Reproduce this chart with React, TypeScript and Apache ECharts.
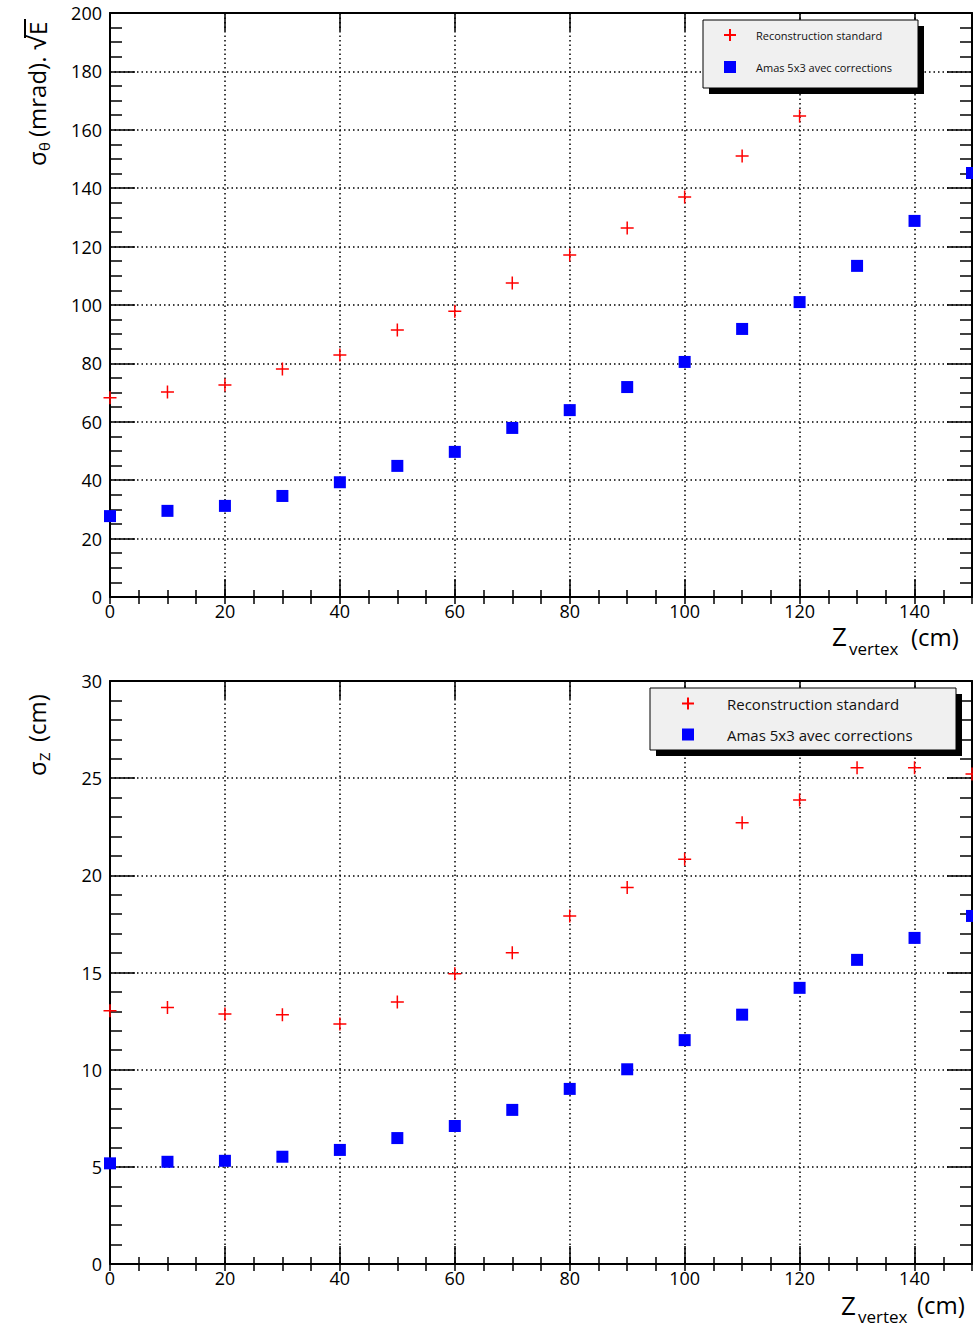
import React, { useEffect, useRef } from "react";
import * as echarts from "echarts";

const zVertex = [0, 10, 20, 30, 40, 50, 60, 70, 80, 90, 100, 110, 120, 130, 140, 150];
// Top panel: sigma_theta * sqrt(E) (mrad)
const thetaStandard = [68.2, 70.2, 72.6, 78.1, 82.9, 91.4, 97.9, 107.5, 117.1, 126.4, 137.0, 151.0, 164.7];
const thetaAmas = [27.7, 29.5, 31.2, 34.6, 39.3, 44.9, 49.7, 57.9, 64.0, 71.9, 80.5, 91.8, 101.0, 113.4, 128.8, 145.2];
// Bottom panel: sigma_z (cm)
const zStandard = [13.03, 13.2, 12.87, 12.82, 12.35, 13.48, 14.93, 16.01, 17.91, 19.38, 20.83, 22.7, 23.88, 25.53, 25.53, 25.22];
const zAmas = [5.18, 5.26, 5.31, 5.52, 5.87, 6.48, 7.1, 7.93, 9.01, 10.02, 11.52, 12.83, 14.21, 15.65, 16.78, 17.91];

const seriesNames = ["Reconstruction standard", "Amas 5x3 avec corrections"];
const xRange = { min: 0, max: 150, major: 20, minor: 5 };
const yTopRange = { min: 0, max: 200, major: 20, minorSplit: 4 };
const yBottomRange = { min: 0, max: 30, major: 5, minorSplit: 5 };

const FONT = '"Open Sans", "DejaVu Sans", sans-serif';
const CROSS = "path://M0,6L12,6M6,0L6,12";

function pairs(xs: number[], ys: number[]) {
  return ys.map((y, i) => [xs[i], y]);
}

function xAxesFor(gridIndex: number) {
  const base = { type: "value", gridIndex, min: xRange.min, max: xRange.max };
  const tickStyle = { color: "#000", width: 1.5 };
  return [
    {
      ...base,
      position: "bottom",
      interval: xRange.major,
      axisLine: { show: true, onZero: false, lineStyle: { color: "#000", width: 2 } },
      axisTick: { show: true, inside: true, length: 18, lineStyle: tickStyle },
      axisLabel: { show: true, fontSize: 18, color: "#000", fontFamily: FONT, margin: 5, showMaxLabel: false },
      splitLine: { show: true, lineStyle: { color: "#000", width: 1.5, type: [1.5, 3] } },
    },
    {
      ...base,
      position: "bottom",
      interval: xRange.minor,
      axisLine: { show: false },
      axisTick: { show: true, inside: true, length: 7, lineStyle: tickStyle },
      axisLabel: { show: false },
      splitLine: { show: false },
    },
    {
      ...base,
      position: "top",
      interval: xRange.major,
      axisLine: { show: true, onZero: false, lineStyle: { color: "#000", width: 2 } },
      axisTick: { show: true, inside: true, length: 18, lineStyle: tickStyle },
      axisLabel: { show: false },
      splitLine: { show: false },
    },
    {
      ...base,
      position: "top",
      interval: xRange.minor,
      axisLine: { show: false },
      axisTick: { show: true, inside: true, length: 7, lineStyle: tickStyle },
      axisLabel: { show: false },
      splitLine: { show: false },
    },
  ];
}

function yAxesFor(gridIndex: number, r: { min: number; max: number; major: number; minorSplit: number }) {
  const base = { type: "value", gridIndex, min: r.min, max: r.max, interval: r.major };
  const tickStyle = { color: "#000", width: 1.5 };
  return [
    {
      ...base,
      position: "left",
      axisLine: { show: true, onZero: false, lineStyle: { color: "#000", width: 2 } },
      axisTick: { show: true, inside: true, length: 25, lineStyle: tickStyle },
      minorTick: { show: true, splitNumber: r.minorSplit, length: 12, lineStyle: tickStyle },
      axisLabel: { show: true, fontSize: 18, color: "#000", fontFamily: FONT, margin: 8 },
      splitLine: { show: true, lineStyle: { color: "#000", width: 1.5, type: [1.5, 3] } },
    },
    {
      ...base,
      position: "right",
      axisLine: { show: true, onZero: false, lineStyle: { color: "#000", width: 2 } },
      axisTick: { show: true, inside: true, length: 25, lineStyle: tickStyle },
      minorTick: { show: true, splitNumber: r.minorSplit, length: 12, lineStyle: tickStyle },
      axisLabel: { show: false },
      splitLine: { show: false },
    },
  ];
}

function crossSeries(data: number[][], xAxisIndex: number, yAxisIndex: number) {
  return {
    type: "scatter",
    name: seriesNames[0],
    xAxisIndex,
    yAxisIndex,
    data,
    symbol: CROSS,
    symbolSize: 13,
    clip: false,
    z: 3,
    itemStyle: { color: "rgba(255,0,0,0)", borderColor: "#ff0000", borderWidth: 1.5, opacity: 1 },
    emphasis: { disabled: true },
  };
}

function squareSeries(data: number[][], xAxisIndex: number, yAxisIndex: number) {
  return {
    type: "scatter",
    name: seriesNames[1],
    xAxisIndex,
    yAxisIndex,
    data,
    symbol: "rect",
    symbolSize: 12,
    clip: false,
    z: 3,
    itemStyle: { color: "#0000ff", opacity: 1 },
    emphasis: { disabled: true },
  };
}

function legendBox(x: number, y: number, w: number, h: number, shadow: number) {
  return [
    { type: "rect", z: 50, shape: { x: x + shadow, y: y + shadow, width: w, height: h }, style: { fill: "#000" } },
    { type: "rect", z: 51, shape: { x, y, width: w, height: h }, style: { fill: "#f0f0f0", stroke: "#000", lineWidth: 1 } },
  ];
}

function txt(x: number, y: number, text: string, fontSize: number, extra: any = {}) {
  return {
    type: "text",
    x,
    y,
    z: 60,
    style: { text, fontSize, fontFamily: FONT, fill: "#000", verticalAlign: "middle", ...extra },
  };
}

export default function App() {
  const ref = useRef<HTMLDivElement>(null);
  useEffect(() => {
    if (!ref.current) return;
    const chart = echarts.init(ref.current, null, { renderer: "svg" });
    const option: any = {
      animation: false,
      backgroundColor: "#fff",
      grid: [
        { left: 110, top: 13, width: 862, height: 584, containLabel: false },
        { left: 110, top: 681, width: 862, height: 583, containLabel: false },
      ],
      xAxis: [...xAxesFor(0), ...xAxesFor(1)],
      yAxis: [...yAxesFor(0, yTopRange), ...yAxesFor(1, yBottomRange)],
      legend: [
        {
          orient: "vertical",
          left: 718,
          top: 23,
          itemWidth: 12,
          itemHeight: 12,
          itemGap: 19,
          selectedMode: false,
          z: 70,
          data: seriesNames,
          textStyle: { fontSize: 11, fontFamily: FONT, color: "#111", padding: [0, 0, 0, 15] },
        },
        {
          orient: "vertical",
          left: 676,
          top: 691,
          itemWidth: 12,
          itemHeight: 12,
          itemGap: 16,
          selectedMode: false,
          z: 70,
          data: seriesNames,
          textStyle: { fontSize: 15, fontFamily: FONT, color: "#111", padding: [0, 0, 0, 28] },
        },
      ],
      graphic: [
        ...legendBox(703, 20, 215, 68, 6),
        ...legendBox(650, 688, 306, 62, 6),
        {
          type: "group",
          x: 36,
          y: 166,
          rotation: Math.PI / 2,
          children: [
            txt(0, 0, "σ", 24),
            txt(15, 8, "θ", 15),
            txt(29, 0, "(mrad).", 24),
            txt(116, 0, "√", 26),
            txt(131, 1, "E", 24),
            { type: "line", z: 60, shape: { x1: 128, y1: -11, x2: 147, y2: -11 }, style: { stroke: "#000", lineWidth: 2 } },
          ],
        },
        {
          type: "group",
          x: 36,
          y: 776,
          rotation: Math.PI / 2,
          children: [txt(0, 0, "σ", 24), txt(15, 8, "Z", 15), txt(34, 0, "(cm)", 24)],
        },
        txt(832, 636, "Z", 26),
        txt(849, 648, "vertex", 17),
        txt(911, 636, "(cm)", 24),
        txt(841, 1305, "Z", 26),
        txt(858, 1316, "vertex", 17),
        txt(917, 1304, "(cm)", 24),
      ],
      series: [
        crossSeries(pairs(zVertex, thetaStandard), 0, 0),
        squareSeries(pairs(zVertex, thetaAmas), 0, 0),
        crossSeries(pairs(zVertex, zStandard), 4, 2),
        squareSeries(pairs(zVertex, zAmas), 4, 2),
      ],
    };
    chart.setOption(option);
    return () => chart.dispose();
  }, []);
  return (
    <div
      ref={ref}
      style={{ position: "fixed", left: 0, top: 0, width: 973, height: 1326, background: "#fff" }}
    />
  );
}
